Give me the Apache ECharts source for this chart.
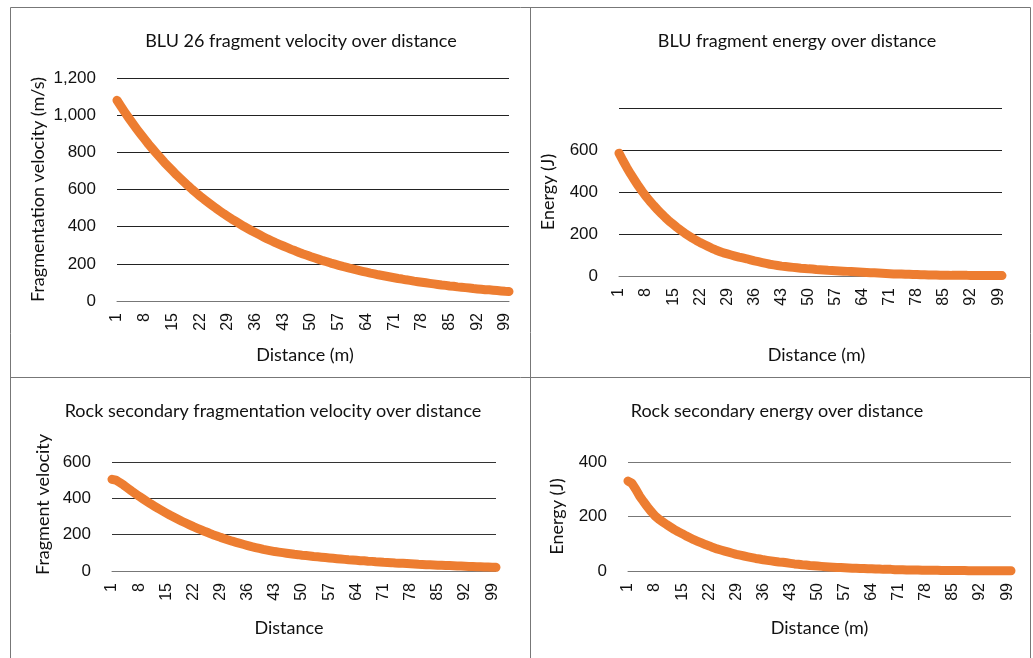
<!DOCTYPE html>
<html>
<head>
<meta charset="utf-8">
<script src="https://cdn.jsdelivr.net/npm/echarts@6/dist/echarts.min.js"></script>
<style>html,body{margin:0;padding:0;background:#fff;}#c{width:1033px;height:658px;}</style>
</head>
<body>
<div id="c"></div>
<script>
var distances = [];
for (var i = 1; i <= 100; i++) distances.push(String(i));

var bluVelocity = [1080,1047,1015,984,954,925,897,870,843,818,
793,769,745,723,701,679,659,639,619,600,
582,564,547,531,515,499,484,469,455,441,
428,415,402,390,378,367,356,345,334,324,
314,305,296,287,278,270,261,253,246,238,
231,224,217,211,204,198,192,186,181,175,
170,165,160,155,150,146,141,137,133,129,
125,121,118,114,111,107,104,101,98,95,
92,89,86,84,81,79,76,74,72,70,
67,65,63,61,60,58,56,54,52,51];

var bluEnergy = [585,550,517,486,457,429,403,379,356,335,
315,296,278,261,246,231,217,204,192,180,
169,159,150,141,132,124,117,110,105,100,
95,90,86,82,77,72,68,64,60,56,
53,50,47,45,43,41,39,37,36,34,
33,31,30,29,27,26,25,24,23,22,
21,20,19,18,17,16,15,14,13,12,
11,10,10,9,8,8,7,7,6,6,
5,5,5,4,4,4,3,3,3,3,
3,2,2,2,2,2,2,2,2,2];

var rockVelocity = [505,500,487,473,457,441,426,411,397,383,
369,356,343,331,319,307,296,285,274,264,
254,244,235,226,217,209,200,193,185,178,
171,164,158,152,146,140,134,129,124,119,
115,111,107,104,101,98,95,92,90,87,
85,83,80,78,76,74,72,70,68,66,
64,62,61,59,57,56,54,53,51,50,
48,47,46,44,43,42,41,40,39,37,
36,35,34,33,32,31,30,30,29,28,
27,26,25,25,24,23,22,22,21,20];

var rockEnergy = [330,322,300,275,255,236,218,202,190,180,
170,161,152,144,137,129,122,115,109,103,
97,92,86,81,77,73,69,65,61,58,
55,52,49,46,44,41,39,37,35,33,
32,30,28,26,25,23,22,20,19,18,
17,16,15,14,13,13,12,11,10,10,
9,9,8,8,7,7,6,6,6,5,
5,5,4,4,4,4,3,3,3,3,
3,2,2,2,2,2,2,2,1,1,
1,1,1,1,1,1,1,1,1,1];

var titles = ['BLU 26 fragment velocity over distance', 'BLU fragment energy over distance',
  'Rock secondary fragmentation velocity over distance', 'Rock secondary energy over distance'];
var yNames = ['Fragmentation velocity (m/s)', 'Energy (J)', 'Fragment velocity', 'Energy (J)'];
var xNames = ['Distance (m)', 'Distance (m)', 'Distance', 'Distance (m)'];
var yMax = [1200, 800, 600, 400];

var ORANGE = '#ED7D31';
var grids = [
  {left: 117, top: 78, width: 392, height: 223},
  {left: 619, top: 108, width: 383, height: 168},
  {left: 112, top: 462, width: 384, height: 109},
  {left: 628, top: 462, width: 383, height: 109}
];
var titlePos = [[301, 32], [797, 32], [273, 402], [777, 402]];
var yGap = [70, 62, 60, 62];
var xGap = [45, 70, 48, 48];
var xNamePad = [[0,16,0,0], [0,0,0,12], [0,30,0,0], [0,0,0,0]];
var yNamePad = [[0,0,0,0], [0,0,0,0], [0,0,0,24], [0,0,0,0]];
var gridColor = ['#222', '#222', '#333', '#777'];
var seriesData = [bluVelocity, bluEnergy, rockVelocity, rockEnergy];

var option = {
  animation: false,
  backgroundColor: '#fff',
  title: titles.map(function (t, k) {
    return {text: t, left: titlePos[k][0], top: titlePos[k][1], textAlign: 'center', padding: 0,
      textStyle: {fontFamily: 'Lato', fontSize: 18, fontWeight: 'normal', color: '#111'}};
  }),
  grid: grids,
  xAxis: grids.map(function (g, k) {
    return {
      type: 'category', gridIndex: k, data: distances, boundaryGap: false,
      name: xNames[k], nameLocation: 'middle', nameGap: xGap[k],
      nameTextStyle: {fontFamily: 'Lato', fontSize: 18, color: '#111', padding: xNamePad[k]},
      axisLine: {show: true, lineStyle: {color: '#777', width: 1}},
      axisTick: {show: false},
      axisLabel: {interval: 6, rotate: 90, margin: 12, fontFamily: 'Liberation Sans', fontSize: 16, color: '#111'},
      splitLine: {show: false}
    };
  }),
  yAxis: grids.map(function (g, k) {
    return {
      type: 'value', gridIndex: k, min: 0, max: yMax[k], interval: 200,
      name: yNames[k], nameLocation: 'middle', nameGap: yGap[k],
      nameTextStyle: {fontFamily: 'Lato', fontSize: 18, color: '#111', padding: yNamePad[k]},
      axisLine: {show: false}, axisTick: {show: false},
      axisLabel: {margin: 21, fontFamily: 'Liberation Sans', fontSize: 17, color: '#111',
        showMaxLabel: k !== 1,
        formatter: function (v) { return v >= 1000 ? Math.floor(v / 1000) + ',' + String(v % 1000).padStart(3, '0') : String(v); }},
      splitLine: {show: true, lineStyle: {color: gridColor[k], width: 1}}
    };
  }),
  series: seriesData.map(function (d, k) {
    return {type: 'line', xAxisIndex: k, yAxisIndex: k, data: d, showSymbol: false, clip: false,
      lineStyle: {color: ORANGE, width: 9, cap: 'round', join: 'round'}, itemStyle: {color: ORANGE}};
  }),
  graphic: [
    {type: 'rect', shape: {x: 10.5, y: 7.5, width: 1020, height: 660}, style: {fill: 'none', stroke: '#777', lineWidth: 1}, silent: true},
    {type: 'line', shape: {x1: 530.5, y1: 7, x2: 530.5, y2: 658}, style: {stroke: '#777', lineWidth: 1}, silent: true},
    {type: 'line', shape: {x1: 10, y1: 377.5, x2: 1031, y2: 377.5}, style: {stroke: '#777', lineWidth: 1}, silent: true}
  ]
};
echarts.init(document.getElementById('c')).setOption(option);
</script>
</body>
</html>
